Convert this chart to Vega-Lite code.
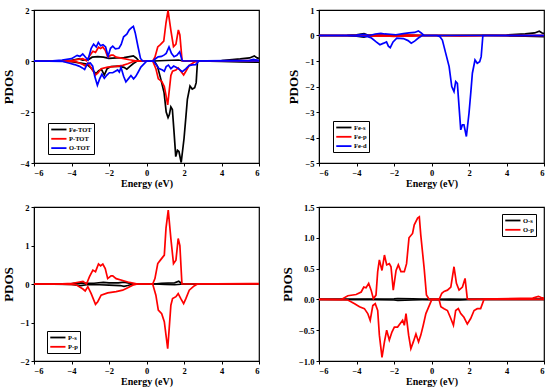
{
"$schema":"https://vega.github.io/schema/vega-lite/v6.json",
"padding":{"left":2,"top":5,"right":5,"bottom":5},
"datasets":{"d":[
{"s":"Fe-TOT","d":"u","x":-6,"y":0},{"s":"Fe-TOT","d":"u","x":-4.5,"y":0.01},{"s":"Fe-TOT","d":"u","x":-4,"y":0.03},{"s":"Fe-TOT","d":"u","x":-3.6,"y":0.08},{"s":"Fe-TOT","d":"u","x":-3.4,"y":0.03},{"s":"Fe-TOT","d":"u","x":-3.1,"y":0.05},{"s":"Fe-TOT","d":"u","x":-2.9,"y":0.15},{"s":"Fe-TOT","d":"u","x":-2.6,"y":0.17},{"s":"Fe-TOT","d":"u","x":-2.3,"y":0.15},{"s":"Fe-TOT","d":"u","x":-2.0,"y":0.1},{"s":"Fe-TOT","d":"u","x":-1.6,"y":0.12},{"s":"Fe-TOT","d":"u","x":-1.2,"y":0.13},{"s":"Fe-TOT","d":"u","x":-0.9,"y":0.17},{"s":"Fe-TOT","d":"u","x":-0.7,"y":0.2},{"s":"Fe-TOT","d":"u","x":-0.55,"y":0.12},{"s":"Fe-TOT","d":"u","x":-0.4,"y":0},{"s":"Fe-TOT","d":"u","x":0.4,"y":0},{"s":"Fe-TOT","d":"u","x":1.0,"y":0.02},{"s":"Fe-TOT","d":"u","x":1.7,"y":0.04},{"s":"Fe-TOT","d":"u","x":2.0,"y":0},{"s":"Fe-TOT","d":"u","x":4,"y":0.02},{"s":"Fe-TOT","d":"u","x":5,"y":0.08},{"s":"Fe-TOT","d":"u","x":5.5,"y":0.12},{"s":"Fe-TOT","d":"u","x":5.75,"y":0.2},{"s":"Fe-TOT","d":"u","x":5.9,"y":0.12},{"s":"Fe-TOT","d":"u","x":6,"y":0.1},
{"s":"Fe-TOT","d":"d","x":-6,"y":0},{"s":"Fe-TOT","d":"d","x":-4.5,"y":-0.01},{"s":"Fe-TOT","d":"d","x":-4,"y":-0.03},{"s":"Fe-TOT","d":"d","x":-3.5,"y":-0.08},{"s":"Fe-TOT","d":"d","x":-3.2,"y":-0.12},{"s":"Fe-TOT","d":"d","x":-2.95,"y":-0.28},{"s":"Fe-TOT","d":"d","x":-2.7,"y":-0.5},{"s":"Fe-TOT","d":"d","x":-2.55,"y":-0.38},{"s":"Fe-TOT","d":"d","x":-2.4,"y":-0.33},{"s":"Fe-TOT","d":"d","x":-2.25,"y":-0.55},{"s":"Fe-TOT","d":"d","x":-2.1,"y":-0.3},{"s":"Fe-TOT","d":"d","x":-1.9,"y":-0.22},{"s":"Fe-TOT","d":"d","x":-1.5,"y":-0.2},{"s":"Fe-TOT","d":"d","x":-1.2,"y":-0.25},{"s":"Fe-TOT","d":"d","x":-1.05,"y":-0.32},{"s":"Fe-TOT","d":"d","x":-0.9,"y":-0.22},{"s":"Fe-TOT","d":"d","x":-0.7,"y":-0.1},{"s":"Fe-TOT","d":"d","x":-0.5,"y":0},{"s":"Fe-TOT","d":"d","x":0.3,"y":0},{"s":"Fe-TOT","d":"d","x":0.45,"y":-0.05},{"s":"Fe-TOT","d":"d","x":0.58,"y":-0.2},{"s":"Fe-TOT","d":"d","x":0.76,"y":-0.7},{"s":"Fe-TOT","d":"d","x":0.94,"y":-1.25},{"s":"Fe-TOT","d":"d","x":1.05,"y":-2.0},{"s":"Fe-TOT","d":"d","x":1.15,"y":-2.22},{"s":"Fe-TOT","d":"d","x":1.22,"y":-2.1},{"s":"Fe-TOT","d":"d","x":1.3,"y":-1.8},{"s":"Fe-TOT","d":"d","x":1.38,"y":-1.9},{"s":"Fe-TOT","d":"d","x":1.47,"y":-2.8},{"s":"Fe-TOT","d":"d","x":1.56,"y":-3.75},{"s":"Fe-TOT","d":"d","x":1.65,"y":-3.5},{"s":"Fe-TOT","d":"d","x":1.73,"y":-3.55},{"s":"Fe-TOT","d":"d","x":1.85,"y":-3.98},{"s":"Fe-TOT","d":"d","x":2.0,"y":-3.05},{"s":"Fe-TOT","d":"d","x":2.1,"y":-2.2},{"s":"Fe-TOT","d":"d","x":2.18,"y":-1.5},{"s":"Fe-TOT","d":"d","x":2.32,"y":-0.98},{"s":"Fe-TOT","d":"d","x":2.44,"y":-1.1},{"s":"Fe-TOT","d":"d","x":2.57,"y":-1.05},{"s":"Fe-TOT","d":"d","x":2.65,"y":-0.85},{"s":"Fe-TOT","d":"d","x":2.72,"y":0},{"s":"Fe-TOT","d":"d","x":4,"y":-0.02},{"s":"Fe-TOT","d":"d","x":5,"y":-0.04},{"s":"Fe-TOT","d":"d","x":6,"y":-0.05},
{"s":"P-TOT","d":"u","x":-6,"y":0},{"s":"P-TOT","d":"u","x":-4.5,"y":0.01},{"s":"P-TOT","d":"u","x":-3.9,"y":0.03},{"s":"P-TOT","d":"u","x":-3.4,"y":0.09},{"s":"P-TOT","d":"u","x":-3.2,"y":0.01},{"s":"P-TOT","d":"u","x":-3.04,"y":0.2},{"s":"P-TOT","d":"u","x":-2.86,"y":0.38},{"s":"P-TOT","d":"u","x":-2.72,"y":0.34},{"s":"P-TOT","d":"u","x":-2.56,"y":0.54},{"s":"P-TOT","d":"u","x":-2.45,"y":0.49},{"s":"P-TOT","d":"u","x":-2.33,"y":0.55},{"s":"P-TOT","d":"u","x":-2.2,"y":0.42},{"s":"P-TOT","d":"u","x":-2.07,"y":0.16},{"s":"P-TOT","d":"u","x":-1.89,"y":0.23},{"s":"P-TOT","d":"u","x":-1.78,"y":0.23},{"s":"P-TOT","d":"u","x":-1.62,"y":0.15},{"s":"P-TOT","d":"u","x":-1.27,"y":0.1},{"s":"P-TOT","d":"u","x":-0.91,"y":0.05},{"s":"P-TOT","d":"u","x":-0.5,"y":0},{"s":"P-TOT","d":"u","x":0.33,"y":0},{"s":"P-TOT","d":"u","x":0.45,"y":0.15},{"s":"P-TOT","d":"u","x":0.6,"y":0.55},{"s":"P-TOT","d":"u","x":0.74,"y":0.64},{"s":"P-TOT","d":"u","x":0.92,"y":0.78},{"s":"P-TOT","d":"u","x":1.04,"y":1.5},{"s":"P-TOT","d":"u","x":1.15,"y":1.98},{"s":"P-TOT","d":"u","x":1.3,"y":1.2},{"s":"P-TOT","d":"u","x":1.44,"y":0.56},{"s":"P-TOT","d":"u","x":1.57,"y":0.66},{"s":"P-TOT","d":"u","x":1.7,"y":1.22},{"s":"P-TOT","d":"u","x":1.78,"y":1.02},{"s":"P-TOT","d":"u","x":1.9,"y":0},{"s":"P-TOT","d":"u","x":6,"y":0.02},
{"s":"P-TOT","d":"d","x":-6,"y":0},{"s":"P-TOT","d":"d","x":-4.5,"y":-0.01},{"s":"P-TOT","d":"d","x":-3.75,"y":-0.03},{"s":"P-TOT","d":"d","x":-3.39,"y":-0.14},{"s":"P-TOT","d":"d","x":-3.27,"y":-0.19},{"s":"P-TOT","d":"d","x":-3.13,"y":-0.08},{"s":"P-TOT","d":"d","x":-2.95,"y":-0.27},{"s":"P-TOT","d":"d","x":-2.72,"y":-0.55},{"s":"P-TOT","d":"d","x":-2.6,"y":-0.48},{"s":"P-TOT","d":"d","x":-2.42,"y":-0.3},{"s":"P-TOT","d":"d","x":-2.07,"y":-0.24},{"s":"P-TOT","d":"d","x":-1.62,"y":-0.21},{"s":"P-TOT","d":"d","x":-1.27,"y":-0.17},{"s":"P-TOT","d":"d","x":-1.0,"y":-0.11},{"s":"P-TOT","d":"d","x":-0.74,"y":-0.03},{"s":"P-TOT","d":"d","x":-0.5,"y":0},{"s":"P-TOT","d":"d","x":0.33,"y":0},{"s":"P-TOT","d":"d","x":0.5,"y":-0.3},{"s":"P-TOT","d":"d","x":0.63,"y":-0.7},{"s":"P-TOT","d":"d","x":0.81,"y":-0.8},{"s":"P-TOT","d":"d","x":0.95,"y":-1.0},{"s":"P-TOT","d":"d","x":1.04,"y":-1.35},{"s":"P-TOT","d":"d","x":1.13,"y":-1.72},{"s":"P-TOT","d":"d","x":1.21,"y":-1.18},{"s":"P-TOT","d":"d","x":1.3,"y":-0.57},{"s":"P-TOT","d":"d","x":1.39,"y":-0.4},{"s":"P-TOT","d":"d","x":1.57,"y":-0.35},{"s":"P-TOT","d":"d","x":1.69,"y":-0.27},{"s":"P-TOT","d":"d","x":1.83,"y":-0.4},{"s":"P-TOT","d":"d","x":1.98,"y":-0.55},{"s":"P-TOT","d":"d","x":2.1,"y":-0.4},{"s":"P-TOT","d":"d","x":2.28,"y":-0.17},{"s":"P-TOT","d":"d","x":2.54,"y":-0.05},{"s":"P-TOT","d":"d","x":2.72,"y":0},{"s":"P-TOT","d":"d","x":6,"y":0},
{"s":"O-TOT","d":"u","x":-6,"y":0},{"s":"O-TOT","d":"u","x":-5,"y":0.01},{"s":"O-TOT","d":"u","x":-4.5,"y":0.04},{"s":"O-TOT","d":"u","x":-4.0,"y":0.09},{"s":"O-TOT","d":"u","x":-3.7,"y":0.22},{"s":"O-TOT","d":"u","x":-3.55,"y":0.18},{"s":"O-TOT","d":"u","x":-3.4,"y":0.28},{"s":"O-TOT","d":"u","x":-3.25,"y":0.15},{"s":"O-TOT","d":"u","x":-3.12,"y":0.04},{"s":"O-TOT","d":"u","x":-2.95,"y":0.5},{"s":"O-TOT","d":"u","x":-2.82,"y":0.66},{"s":"O-TOT","d":"u","x":-2.68,"y":0.55},{"s":"O-TOT","d":"u","x":-2.57,"y":0.73},{"s":"O-TOT","d":"u","x":-2.45,"y":0.6},{"s":"O-TOT","d":"u","x":-2.32,"y":0.64},{"s":"O-TOT","d":"u","x":-2.18,"y":0.55},{"s":"O-TOT","d":"u","x":-2.05,"y":0.18},{"s":"O-TOT","d":"u","x":-1.92,"y":0.5},{"s":"O-TOT","d":"u","x":-1.8,"y":0.58},{"s":"O-TOT","d":"u","x":-1.66,"y":0.48},{"s":"O-TOT","d":"u","x":-1.47,"y":0.5},{"s":"O-TOT","d":"u","x":-1.35,"y":0.65},{"s":"O-TOT","d":"u","x":-1.22,"y":0.95},{"s":"O-TOT","d":"u","x":-1.05,"y":1.05},{"s":"O-TOT","d":"u","x":-0.92,"y":1.22},{"s":"O-TOT","d":"u","x":-0.78,"y":1.32},{"s":"O-TOT","d":"u","x":-0.7,"y":1.36},{"s":"O-TOT","d":"u","x":-0.6,"y":1.1},{"s":"O-TOT","d":"u","x":-0.45,"y":0.55},{"s":"O-TOT","d":"u","x":-0.32,"y":0.1},{"s":"O-TOT","d":"u","x":-0.2,"y":0},{"s":"O-TOT","d":"u","x":0.35,"y":0},{"s":"O-TOT","d":"u","x":0.5,"y":0.1},{"s":"O-TOT","d":"u","x":0.62,"y":0.16},{"s":"O-TOT","d":"u","x":0.8,"y":0.18},{"s":"O-TOT","d":"u","x":0.95,"y":0.24},{"s":"O-TOT","d":"u","x":1.05,"y":0.3},{"s":"O-TOT","d":"u","x":1.2,"y":0.55},{"s":"O-TOT","d":"u","x":1.33,"y":0.3},{"s":"O-TOT","d":"u","x":1.47,"y":0.17},{"s":"O-TOT","d":"u","x":1.62,"y":0.22},{"s":"O-TOT","d":"u","x":1.77,"y":0.36},{"s":"O-TOT","d":"u","x":1.9,"y":0.02},{"s":"O-TOT","d":"u","x":2.0,"y":0},{"s":"O-TOT","d":"u","x":5.5,"y":0.03},{"s":"O-TOT","d":"u","x":5.7,"y":0.06},{"s":"O-TOT","d":"u","x":6,"y":0.03},
{"s":"O-TOT","d":"d","x":-6,"y":0},{"s":"O-TOT","d":"d","x":-4.46,"y":-0.02},{"s":"O-TOT","d":"d","x":-4.1,"y":-0.09},{"s":"O-TOT","d":"d","x":-3.84,"y":-0.14},{"s":"O-TOT","d":"d","x":-3.6,"y":-0.2},{"s":"O-TOT","d":"d","x":-3.42,"y":-0.27},{"s":"O-TOT","d":"d","x":-3.3,"y":-0.33},{"s":"O-TOT","d":"d","x":-3.15,"y":-0.1},{"s":"O-TOT","d":"d","x":-3.0,"y":-0.08},{"s":"O-TOT","d":"d","x":-2.87,"y":-0.2},{"s":"O-TOT","d":"d","x":-2.76,"y":-0.6},{"s":"O-TOT","d":"d","x":-2.62,"y":-0.95},{"s":"O-TOT","d":"d","x":-2.5,"y":-0.7},{"s":"O-TOT","d":"d","x":-2.38,"y":-0.52},{"s":"O-TOT","d":"d","x":-2.25,"y":-0.68},{"s":"O-TOT","d":"d","x":-2.11,"y":-0.55},{"s":"O-TOT","d":"d","x":-1.98,"y":-0.46},{"s":"O-TOT","d":"d","x":-1.8,"y":-0.46},{"s":"O-TOT","d":"d","x":-1.54,"y":-0.35},{"s":"O-TOT","d":"d","x":-1.45,"y":-0.43},{"s":"O-TOT","d":"d","x":-1.36,"y":-0.25},{"s":"O-TOT","d":"d","x":-1.22,"y":-0.6},{"s":"O-TOT","d":"d","x":-1.1,"y":-0.82},{"s":"O-TOT","d":"d","x":-0.97,"y":-0.7},{"s":"O-TOT","d":"d","x":-0.83,"y":-0.57},{"s":"O-TOT","d":"d","x":-0.69,"y":-0.7},{"s":"O-TOT","d":"d","x":-0.57,"y":-0.6},{"s":"O-TOT","d":"d","x":-0.44,"y":-0.43},{"s":"O-TOT","d":"d","x":-0.3,"y":-0.24},{"s":"O-TOT","d":"d","x":-0.12,"y":-0.1},{"s":"O-TOT","d":"d","x":0.02,"y":0},{"s":"O-TOT","d":"d","x":0.38,"y":0},{"s":"O-TOT","d":"d","x":0.5,"y":-0.13},{"s":"O-TOT","d":"d","x":0.67,"y":-0.3},{"s":"O-TOT","d":"d","x":0.85,"y":-0.35},{"s":"O-TOT","d":"d","x":0.95,"y":-0.4},{"s":"O-TOT","d":"d","x":1.05,"y":-0.22},{"s":"O-TOT","d":"d","x":1.17,"y":-0.16},{"s":"O-TOT","d":"d","x":1.3,"y":-0.3},{"s":"O-TOT","d":"d","x":1.45,"y":-0.2},{"s":"O-TOT","d":"d","x":1.6,"y":-0.25},{"s":"O-TOT","d":"d","x":1.73,"y":-0.32},{"s":"O-TOT","d":"d","x":1.91,"y":-0.42},{"s":"O-TOT","d":"d","x":2.09,"y":-0.31},{"s":"O-TOT","d":"d","x":2.27,"y":-0.18},{"s":"O-TOT","d":"d","x":2.44,"y":-0.15},{"s":"O-TOT","d":"d","x":2.62,"y":-0.14},{"s":"O-TOT","d":"d","x":2.8,"y":0},{"s":"O-TOT","d":"d","x":6,"y":0},
{"s":"Fe-s","d":"u","x":-6,"y":0},{"s":"Fe-s","d":"u","x":-4.5,"y":0.01},{"s":"Fe-s","d":"u","x":-4,"y":0.03},{"s":"Fe-s","d":"u","x":-3.6,"y":0.07},{"s":"Fe-s","d":"u","x":-3.4,"y":0.02},{"s":"Fe-s","d":"u","x":-3,"y":0.02},{"s":"Fe-s","d":"u","x":-2,"y":0.02},{"s":"Fe-s","d":"u","x":-1,"y":0.01},{"s":"Fe-s","d":"u","x":-0.5,"y":0},{"s":"Fe-s","d":"u","x":0.5,"y":0},{"s":"Fe-s","d":"u","x":3,"y":0.01},{"s":"Fe-s","d":"u","x":4,"y":0.02},{"s":"Fe-s","d":"u","x":5,"y":0.06},{"s":"Fe-s","d":"u","x":5.5,"y":0.1},{"s":"Fe-s","d":"u","x":5.75,"y":0.17},{"s":"Fe-s","d":"u","x":5.9,"y":0.1},{"s":"Fe-s","d":"u","x":6,"y":0.08},
{"s":"Fe-s","d":"d","x":-6,"y":0},{"s":"Fe-s","d":"d","x":-4.5,"y":-0.01},{"s":"Fe-s","d":"d","x":-4,"y":-0.03},{"s":"Fe-s","d":"d","x":-3.6,"y":-0.06},{"s":"Fe-s","d":"d","x":-3.4,"y":-0.02},{"s":"Fe-s","d":"d","x":-2,"y":-0.01},{"s":"Fe-s","d":"d","x":-0.5,"y":0},{"s":"Fe-s","d":"d","x":3,"y":0},{"s":"Fe-s","d":"d","x":4,"y":-0.01},{"s":"Fe-s","d":"d","x":5,"y":-0.03},{"s":"Fe-s","d":"d","x":6,"y":-0.05},
{"s":"Fe-p","d":"u","x":-6,"y":0},{"s":"Fe-p","d":"u","x":-3.5,"y":0.01},{"s":"Fe-p","d":"u","x":-3,"y":0.02},{"s":"Fe-p","d":"u","x":-2.5,"y":0.03},{"s":"Fe-p","d":"u","x":-2,"y":0.02},{"s":"Fe-p","d":"u","x":-1.5,"y":0.03},{"s":"Fe-p","d":"u","x":-1,"y":0.02},{"s":"Fe-p","d":"u","x":-0.5,"y":0},{"s":"Fe-p","d":"u","x":6,"y":0},
{"s":"Fe-p","d":"d","x":-6,"y":0},{"s":"Fe-p","d":"d","x":-3.5,"y":-0.01},{"s":"Fe-p","d":"d","x":-3,"y":-0.03},{"s":"Fe-p","d":"d","x":-2.5,"y":-0.02},{"s":"Fe-p","d":"d","x":-2,"y":-0.04},{"s":"Fe-p","d":"d","x":-1.5,"y":-0.02},{"s":"Fe-p","d":"d","x":-1,"y":-0.03},{"s":"Fe-p","d":"d","x":-0.5,"y":0},{"s":"Fe-p","d":"d","x":0.5,"y":0},{"s":"Fe-p","d":"d","x":1.5,"y":-0.02},{"s":"Fe-p","d":"d","x":2.5,"y":-0.01},{"s":"Fe-p","d":"d","x":3,"y":0},{"s":"Fe-p","d":"d","x":6,"y":0},
{"s":"Fe-d","d":"u","x":-6,"y":0},{"s":"Fe-d","d":"u","x":-4.5,"y":0.01},{"s":"Fe-d","d":"u","x":-4,"y":0.02},{"s":"Fe-d","d":"u","x":-3.6,"y":0.04},{"s":"Fe-d","d":"u","x":-3.3,"y":0},{"s":"Fe-d","d":"u","x":-3.0,"y":0.06},{"s":"Fe-d","d":"u","x":-2.7,"y":0.08},{"s":"Fe-d","d":"u","x":-2.5,"y":0.06},{"s":"Fe-d","d":"u","x":-2.2,"y":0.05},{"s":"Fe-d","d":"u","x":-1.9,"y":0.03},{"s":"Fe-d","d":"u","x":-1.5,"y":0.07},{"s":"Fe-d","d":"u","x":-1.2,"y":0.1},{"s":"Fe-d","d":"u","x":-0.9,"y":0.12},{"s":"Fe-d","d":"u","x":-0.7,"y":0.18},{"s":"Fe-d","d":"u","x":-0.55,"y":0.1},{"s":"Fe-d","d":"u","x":-0.4,"y":0},{"s":"Fe-d","d":"u","x":6,"y":0},
{"s":"Fe-d","d":"d","x":-6,"y":0},{"s":"Fe-d","d":"d","x":-4.5,"y":-0.01},{"s":"Fe-d","d":"d","x":-4,"y":-0.02},{"s":"Fe-d","d":"d","x":-3.4,"y":-0.05},{"s":"Fe-d","d":"d","x":-3.2,"y":-0.1},{"s":"Fe-d","d":"d","x":-2.95,"y":-0.25},{"s":"Fe-d","d":"d","x":-2.75,"y":-0.36},{"s":"Fe-d","d":"d","x":-2.55,"y":-0.3},{"s":"Fe-d","d":"d","x":-2.4,"y":-0.25},{"s":"Fe-d","d":"d","x":-2.3,"y":-0.42},{"s":"Fe-d","d":"d","x":-2.2,"y":-0.48},{"s":"Fe-d","d":"d","x":-2.05,"y":-0.25},{"s":"Fe-d","d":"d","x":-1.85,"y":-0.1},{"s":"Fe-d","d":"d","x":-1.5,"y":-0.12},{"s":"Fe-d","d":"d","x":-1.25,"y":-0.2},{"s":"Fe-d","d":"d","x":-1.08,"y":-0.3},{"s":"Fe-d","d":"d","x":-0.9,"y":-0.22},{"s":"Fe-d","d":"d","x":-0.7,"y":-0.1},{"s":"Fe-d","d":"d","x":-0.5,"y":0},{"s":"Fe-d","d":"d","x":0.3,"y":0},{"s":"Fe-d","d":"d","x":0.45,"y":-0.05},{"s":"Fe-d","d":"d","x":0.58,"y":-0.18},{"s":"Fe-d","d":"d","x":0.76,"y":-0.7},{"s":"Fe-d","d":"d","x":0.94,"y":-1.22},{"s":"Fe-d","d":"d","x":1.08,"y":-2.0},{"s":"Fe-d","d":"d","x":1.2,"y":-2.2},{"s":"Fe-d","d":"d","x":1.29,"y":-1.81},{"s":"Fe-d","d":"d","x":1.38,"y":-1.88},{"s":"Fe-d","d":"d","x":1.47,"y":-2.8},{"s":"Fe-d","d":"d","x":1.56,"y":-3.7},{"s":"Fe-d","d":"d","x":1.65,"y":-3.5},{"s":"Fe-d","d":"d","x":1.73,"y":-3.5},{"s":"Fe-d","d":"d","x":1.86,"y":-3.96},{"s":"Fe-d","d":"d","x":2.0,"y":-3.05},{"s":"Fe-d","d":"d","x":2.1,"y":-2.2},{"s":"Fe-d","d":"d","x":2.18,"y":-1.48},{"s":"Fe-d","d":"d","x":2.32,"y":-0.96},{"s":"Fe-d","d":"d","x":2.44,"y":-1.09},{"s":"Fe-d","d":"d","x":2.57,"y":-1.03},{"s":"Fe-d","d":"d","x":2.65,"y":-0.83},{"s":"Fe-d","d":"d","x":2.74,"y":0},{"s":"Fe-d","d":"d","x":6,"y":0},
{"s":"P-s","d":"u","x":-6,"y":0},{"s":"P-s","d":"u","x":-4,"y":0.01},{"s":"P-s","d":"u","x":-3.5,"y":0.03},{"s":"P-s","d":"u","x":-3.2,"y":0.02},{"s":"P-s","d":"u","x":-2.8,"y":0.02},{"s":"P-s","d":"u","x":-2.3,"y":0.04},{"s":"P-s","d":"u","x":-2.0,"y":0.03},{"s":"P-s","d":"u","x":-1.5,"y":0.03},{"s":"P-s","d":"u","x":-1.2,"y":0.05},{"s":"P-s","d":"u","x":-1.0,"y":0.03},{"s":"P-s","d":"u","x":-0.7,"y":0},{"s":"P-s","d":"u","x":0.4,"y":0},{"s":"P-s","d":"u","x":0.8,"y":0.02},{"s":"P-s","d":"u","x":1.5,"y":0.03},{"s":"P-s","d":"u","x":1.72,"y":0.07},{"s":"P-s","d":"u","x":1.85,"y":0.02},{"s":"P-s","d":"u","x":2,"y":0},{"s":"P-s","d":"u","x":6,"y":0},
{"s":"P-s","d":"d","x":-6,"y":0},{"s":"P-s","d":"d","x":-4,"y":-0.01},{"s":"P-s","d":"d","x":-3.5,"y":-0.04},{"s":"P-s","d":"d","x":-3.2,"y":-0.02},{"s":"P-s","d":"d","x":-2.5,"y":-0.02},{"s":"P-s","d":"d","x":-2,"y":-0.03},{"s":"P-s","d":"d","x":-1.4,"y":-0.04},{"s":"P-s","d":"d","x":-1.2,"y":-0.06},{"s":"P-s","d":"d","x":-1.0,"y":-0.04},{"s":"P-s","d":"d","x":-0.7,"y":0},{"s":"P-s","d":"d","x":0.4,"y":0},{"s":"P-s","d":"d","x":1,"y":-0.01},{"s":"P-s","d":"d","x":1.5,"y":-0.02},{"s":"P-s","d":"d","x":2,"y":0},{"s":"P-s","d":"d","x":6,"y":0},
{"s":"P-p","d":"u","x":-6,"y":0},{"s":"P-p","d":"u","x":-4.5,"y":0.005},{"s":"P-p","d":"u","x":-3.93,"y":0.02},{"s":"P-p","d":"u","x":-3.39,"y":0.07},{"s":"P-p","d":"u","x":-3.2,"y":0},{"s":"P-p","d":"u","x":-3.04,"y":0.19},{"s":"P-p","d":"u","x":-2.86,"y":0.36},{"s":"P-p","d":"u","x":-2.72,"y":0.32},{"s":"P-p","d":"u","x":-2.56,"y":0.52},{"s":"P-p","d":"u","x":-2.45,"y":0.47},{"s":"P-p","d":"u","x":-2.33,"y":0.52},{"s":"P-p","d":"u","x":-2.2,"y":0.4},{"s":"P-p","d":"u","x":-2.07,"y":0.14},{"s":"P-p","d":"u","x":-1.89,"y":0.21},{"s":"P-p","d":"u","x":-1.8,"y":0.21},{"s":"P-p","d":"u","x":-1.62,"y":0.14},{"s":"P-p","d":"u","x":-1.27,"y":0.09},{"s":"P-p","d":"u","x":-0.91,"y":0.04},{"s":"P-p","d":"u","x":-0.47,"y":0},{"s":"P-p","d":"u","x":0.33,"y":0},{"s":"P-p","d":"u","x":0.45,"y":0.14},{"s":"P-p","d":"u","x":0.6,"y":0.53},{"s":"P-p","d":"u","x":0.74,"y":0.62},{"s":"P-p","d":"u","x":0.95,"y":0.75},{"s":"P-p","d":"u","x":1.04,"y":1.45},{"s":"P-p","d":"u","x":1.16,"y":1.92},{"s":"P-p","d":"u","x":1.3,"y":1.18},{"s":"P-p","d":"u","x":1.44,"y":0.53},{"s":"P-p","d":"u","x":1.57,"y":0.62},{"s":"P-p","d":"u","x":1.69,"y":1.18},{"s":"P-p","d":"u","x":1.78,"y":1.0},{"s":"P-p","d":"u","x":1.89,"y":0},{"s":"P-p","d":"u","x":5.5,"y":0.01},{"s":"P-p","d":"u","x":6,"y":0.01},
{"s":"P-p","d":"d","x":-6,"y":0},{"s":"P-p","d":"d","x":-4.5,"y":-0.005},{"s":"P-p","d":"d","x":-3.75,"y":-0.02},{"s":"P-p","d":"d","x":-3.39,"y":-0.13},{"s":"P-p","d":"d","x":-3.27,"y":-0.18},{"s":"P-p","d":"d","x":-3.13,"y":-0.07},{"s":"P-p","d":"d","x":-2.95,"y":-0.25},{"s":"P-p","d":"d","x":-2.72,"y":-0.53},{"s":"P-p","d":"d","x":-2.6,"y":-0.46},{"s":"P-p","d":"d","x":-2.42,"y":-0.29},{"s":"P-p","d":"d","x":-2.07,"y":-0.23},{"s":"P-p","d":"d","x":-1.62,"y":-0.2},{"s":"P-p","d":"d","x":-1.27,"y":-0.16},{"s":"P-p","d":"d","x":-1.0,"y":-0.1},{"s":"P-p","d":"d","x":-0.74,"y":-0.03},{"s":"P-p","d":"d","x":-0.47,"y":0},{"s":"P-p","d":"d","x":0.33,"y":0},{"s":"P-p","d":"d","x":0.5,"y":-0.29},{"s":"P-p","d":"d","x":0.63,"y":-0.68},{"s":"P-p","d":"d","x":0.81,"y":-0.77},{"s":"P-p","d":"d","x":0.95,"y":-0.98},{"s":"P-p","d":"d","x":1.04,"y":-1.33},{"s":"P-p","d":"d","x":1.13,"y":-1.68},{"s":"P-p","d":"d","x":1.21,"y":-1.16},{"s":"P-p","d":"d","x":1.3,"y":-0.55},{"s":"P-p","d":"d","x":1.39,"y":-0.38},{"s":"P-p","d":"d","x":1.57,"y":-0.33},{"s":"P-p","d":"d","x":1.69,"y":-0.25},{"s":"P-p","d":"d","x":1.83,"y":-0.38},{"s":"P-p","d":"d","x":1.98,"y":-0.51},{"s":"P-p","d":"d","x":2.1,"y":-0.38},{"s":"P-p","d":"d","x":2.28,"y":-0.16},{"s":"P-p","d":"d","x":2.54,"y":-0.05},{"s":"P-p","d":"d","x":2.72,"y":0},{"s":"P-p","d":"d","x":6,"y":0},
{"s":"O-s","d":"u","x":-6,"y":0},{"s":"O-s","d":"u","x":-3,"y":0.005},{"s":"O-s","d":"u","x":-2,"y":0.01},{"s":"O-s","d":"u","x":-1.8,"y":0.015},{"s":"O-s","d":"u","x":-1,"y":0.01},{"s":"O-s","d":"u","x":0,"y":0},{"s":"O-s","d":"u","x":1,"y":0.005},{"s":"O-s","d":"u","x":2,"y":0},{"s":"O-s","d":"u","x":6,"y":0},
{"s":"O-s","d":"d","x":-6,"y":0},{"s":"O-s","d":"d","x":-3,"y":-0.005},{"s":"O-s","d":"d","x":-2,"y":-0.01},{"s":"O-s","d":"d","x":-1.8,"y":-0.015},{"s":"O-s","d":"d","x":-1,"y":-0.01},{"s":"O-s","d":"d","x":0,"y":0},{"s":"O-s","d":"d","x":1,"y":-0.01},{"s":"O-s","d":"d","x":1.5,"y":-0.01},{"s":"O-s","d":"d","x":2,"y":0},{"s":"O-s","d":"d","x":6,"y":0},
{"s":"O-p","d":"u","x":-6,"y":0},{"s":"O-p","d":"u","x":-4.81,"y":0},{"s":"O-p","d":"u","x":-4.46,"y":0.06},{"s":"O-p","d":"u","x":-4.02,"y":0.08},{"s":"O-p","d":"u","x":-3.75,"y":0.12},{"s":"O-p","d":"u","x":-3.61,"y":0.2},{"s":"O-p","d":"u","x":-3.49,"y":0.19},{"s":"O-p","d":"u","x":-3.35,"y":0.26},{"s":"O-p","d":"u","x":-3.22,"y":0.15},{"s":"O-p","d":"u","x":-3.1,"y":0.01},{"s":"O-p","d":"u","x":-2.96,"y":0.07},{"s":"O-p","d":"u","x":-2.87,"y":0.45},{"s":"O-p","d":"u","x":-2.78,"y":0.64},{"s":"O-p","d":"u","x":-2.64,"y":0.47},{"s":"O-p","d":"u","x":-2.51,"y":0.72},{"s":"O-p","d":"u","x":-2.39,"y":0.56},{"s":"O-p","d":"u","x":-2.25,"y":0.58},{"s":"O-p","d":"u","x":-2.16,"y":0.53},{"s":"O-p","d":"u","x":-2.04,"y":0.15},{"s":"O-p","d":"u","x":-1.89,"y":0.47},{"s":"O-p","d":"u","x":-1.77,"y":0.56},{"s":"O-p","d":"u","x":-1.63,"y":0.45},{"s":"O-p","d":"u","x":-1.45,"y":0.45},{"s":"O-p","d":"u","x":-1.33,"y":0.58},{"s":"O-p","d":"u","x":-1.2,"y":1.0},{"s":"O-p","d":"u","x":-1.01,"y":1.07},{"s":"O-p","d":"u","x":-0.92,"y":1.21},{"s":"O-p","d":"u","x":-0.74,"y":1.32},{"s":"O-p","d":"u","x":-0.65,"y":1.34},{"s":"O-p","d":"u","x":-0.57,"y":1.04},{"s":"O-p","d":"u","x":-0.39,"y":0.5},{"s":"O-p","d":"u","x":-0.27,"y":0.07},{"s":"O-p","d":"u","x":-0.12,"y":0},{"s":"O-p","d":"u","x":0.41,"y":0},{"s":"O-p","d":"u","x":0.55,"y":0.1},{"s":"O-p","d":"u","x":0.67,"y":0.13},{"s":"O-p","d":"u","x":0.85,"y":0.15},{"s":"O-p","d":"u","x":1.03,"y":0.2},{"s":"O-p","d":"u","x":1.2,"y":0.53},{"s":"O-p","d":"u","x":1.33,"y":0.26},{"s":"O-p","d":"u","x":1.47,"y":0.15},{"s":"O-p","d":"u","x":1.65,"y":0.2},{"s":"O-p","d":"u","x":1.79,"y":0.34},{"s":"O-p","d":"u","x":1.91,"y":0.01},{"s":"O-p","d":"u","x":2.0,"y":0},{"s":"O-p","d":"u","x":5.4,"y":0.02},{"s":"O-p","d":"u","x":5.7,"y":0.05},{"s":"O-p","d":"u","x":5.85,"y":0.03},{"s":"O-p","d":"u","x":6,"y":0.02},
{"s":"O-p","d":"d","x":-6,"y":0},{"s":"O-p","d":"d","x":-4.46,"y":-0.01},{"s":"O-p","d":"d","x":-4.1,"y":-0.07},{"s":"O-p","d":"d","x":-3.84,"y":-0.12},{"s":"O-p","d":"d","x":-3.58,"y":-0.15},{"s":"O-p","d":"d","x":-3.4,"y":-0.23},{"s":"O-p","d":"d","x":-3.27,"y":-0.34},{"s":"O-p","d":"d","x":-3.13,"y":-0.1},{"s":"O-p","d":"d","x":-3.0,"y":-0.07},{"s":"O-p","d":"d","x":-2.87,"y":-0.18},{"s":"O-p","d":"d","x":-2.78,"y":-0.58},{"s":"O-p","d":"d","x":-2.64,"y":-0.94},{"s":"O-p","d":"d","x":-2.51,"y":-0.69},{"s":"O-p","d":"d","x":-2.39,"y":-0.5},{"s":"O-p","d":"d","x":-2.25,"y":-0.66},{"s":"O-p","d":"d","x":-2.11,"y":-0.53},{"s":"O-p","d":"d","x":-1.98,"y":-0.45},{"s":"O-p","d":"d","x":-1.81,"y":-0.45},{"s":"O-p","d":"d","x":-1.54,"y":-0.34},{"s":"O-p","d":"d","x":-1.45,"y":-0.42},{"s":"O-p","d":"d","x":-1.36,"y":-0.23},{"s":"O-p","d":"d","x":-1.22,"y":-0.58},{"s":"O-p","d":"d","x":-1.1,"y":-0.8},{"s":"O-p","d":"d","x":-0.97,"y":-0.69},{"s":"O-p","d":"d","x":-0.83,"y":-0.56},{"s":"O-p","d":"d","x":-0.69,"y":-0.69},{"s":"O-p","d":"d","x":-0.57,"y":-0.58},{"s":"O-p","d":"d","x":-0.44,"y":-0.42},{"s":"O-p","d":"d","x":-0.3,"y":-0.23},{"s":"O-p","d":"d","x":-0.12,"y":-0.1},{"s":"O-p","d":"d","x":0.02,"y":0},{"s":"O-p","d":"d","x":0.4,"y":0},{"s":"O-p","d":"d","x":0.5,"y":-0.12},{"s":"O-p","d":"d","x":0.67,"y":-0.15},{"s":"O-p","d":"d","x":0.85,"y":-0.18},{"s":"O-p","d":"d","x":1.03,"y":-0.31},{"s":"O-p","d":"d","x":1.17,"y":-0.42},{"s":"O-p","d":"d","x":1.29,"y":-0.18},{"s":"O-p","d":"d","x":1.43,"y":-0.15},{"s":"O-p","d":"d","x":1.56,"y":-0.23},{"s":"O-p","d":"d","x":1.73,"y":-0.29},{"s":"O-p","d":"d","x":1.91,"y":-0.4},{"s":"O-p","d":"d","x":2.09,"y":-0.31},{"s":"O-p","d":"d","x":2.27,"y":-0.18},{"s":"O-p","d":"d","x":2.44,"y":-0.15},{"s":"O-p","d":"d","x":2.62,"y":-0.15},{"s":"O-p","d":"d","x":2.8,"y":0},{"s":"O-p","d":"d","x":6,"y":0}
]},
"config":{
 "view":{"stroke":"#000","strokeWidth":1.2},
 "font":"Times New Roman, Liberation Serif, serif",
 "axis":{"domainColor":"#000","domainWidth":1,"tickColor":"#000","tickSize":3,"labelColor":"#000","titleColor":"#000","labelFont":"Times New Roman, Liberation Serif, serif","titleFont":"Times New Roman, Liberation Serif, serif","labelFontWeight":"bold","titleFontWeight":"bold","labelFontSize":8.5,"titleFontSize":10,"grid":false,"labelPadding":2},
 "axisX":{"titlePadding":2},
 "axisY":{"titleFontSize":13,"titlePadding":4},
 "legend":{"title":null,"orient":"none","strokeColor":"#000","fillColor":"#fff","padding":2,"symbolType":"M-1,0H3.7","symbolStrokeWidth":1.8,"symbolSize":42,"labelFontSize":6.5,"labelFont":"Times New Roman, Liberation Serif, serif","labelFontWeight":"bold","labelColor":"#000","rowPadding":0.3,"labelOffset":10}
},
"columns":2,
"bounds":"flush",
"spacing":{"row":44,"column":60},
"resolve":{"scale":{"x":"independent","y":"independent","color":"independent"},"axis":{"x":"independent","y":"independent"},"legend":{"color":"independent"}},
"concat":[
{"width":225,"height":153,"data":{"name":"d"},
 "transform":[{"filter":{"field":"s","oneOf":["Fe-TOT","P-TOT","O-TOT"]}}],
 "mark":{"type":"line","strokeWidth":1.7,"clip":true},
 "encoding":{
  "x":{"field":"x","type":"quantitative","scale":{"domain":[-6,6],"nice":false},"axis":{"title":"Energy (eV)","values":[-6,-4,-2,0,2,4,6]}},
  "y":{"field":"y","type":"quantitative","scale":{"domain":[-4,2],"nice":false},"axis":{"title":"PDOS","values":[-4,-2,0,2]}},
  "color":{"field":"s","type":"nominal","scale":{"domain":["Fe-TOT","P-TOT","O-TOT"],"range":["#000000","#ff0000","#0000ff"]},"legend":{"legendX":14,"legendY":113}},
  "detail":{"field":"d"}}},
{"width":225,"height":153,"data":{"name":"d"},
 "transform":[{"filter":{"field":"s","oneOf":["Fe-s","Fe-p","Fe-d"]}}],
 "mark":{"type":"line","strokeWidth":1.7,"clip":true},
 "encoding":{
  "x":{"field":"x","type":"quantitative","scale":{"domain":[-6,6],"nice":false},"axis":{"title":"Energy (eV)","values":[-6,-4,-2,0,2,4,6]}},
  "y":{"field":"y","type":"quantitative","scale":{"domain":[-5,1],"nice":false},"axis":{"title":"PDOS","values":[-5,-4,-3,-2,-1,0,1]}},
  "color":{"field":"s","type":"nominal","scale":{"domain":["Fe-s","Fe-p","Fe-d"],"range":["#000000","#ff0000","#0000ff"]},"legend":{"legendX":14,"legendY":111}},
  "detail":{"field":"d"}}},
{"width":225,"height":154,"data":{"name":"d"},
 "transform":[{"filter":{"field":"s","oneOf":["P-s","P-p"]}}],
 "mark":{"type":"line","strokeWidth":1.7,"clip":true},
 "encoding":{
  "x":{"field":"x","type":"quantitative","scale":{"domain":[-6,6],"nice":false},"axis":{"title":"Energy (eV)","values":[-6,-4,-2,0,2,4,6]}},
  "y":{"field":"y","type":"quantitative","scale":{"domain":[-2,2],"nice":false},"axis":{"title":"PDOS","values":[-2,-1,0,1,2]}},
  "color":{"field":"s","type":"nominal","scale":{"domain":["P-s","P-p"],"range":["#000000","#ff0000"]},"legend":{"legendX":13,"legendY":124}},
  "detail":{"field":"d"}}},
{"width":225,"height":154,"data":{"name":"d"},
 "transform":[{"filter":{"field":"s","oneOf":["O-s","O-p"]}}],
 "mark":{"type":"line","strokeWidth":1.7,"clip":true},
 "encoding":{
  "x":{"field":"x","type":"quantitative","scale":{"domain":[-6,6],"nice":false},"axis":{"title":"Energy (eV)","values":[-6,-4,-2,0,2,4,6]}},
  "y":{"field":"y","type":"quantitative","scale":{"domain":[-1,1.5],"nice":false},"axis":{"title":"PDOS","values":[-1,-0.5,0,0.5,1,1.5],"format":".1f"}},
  "color":{"field":"s","type":"nominal","scale":{"domain":["O-s","O-p"],"range":["#000000","#ff0000"]},"legend":{"legendX":183,"legendY":7}},
  "detail":{"field":"d"}}}
]
}
